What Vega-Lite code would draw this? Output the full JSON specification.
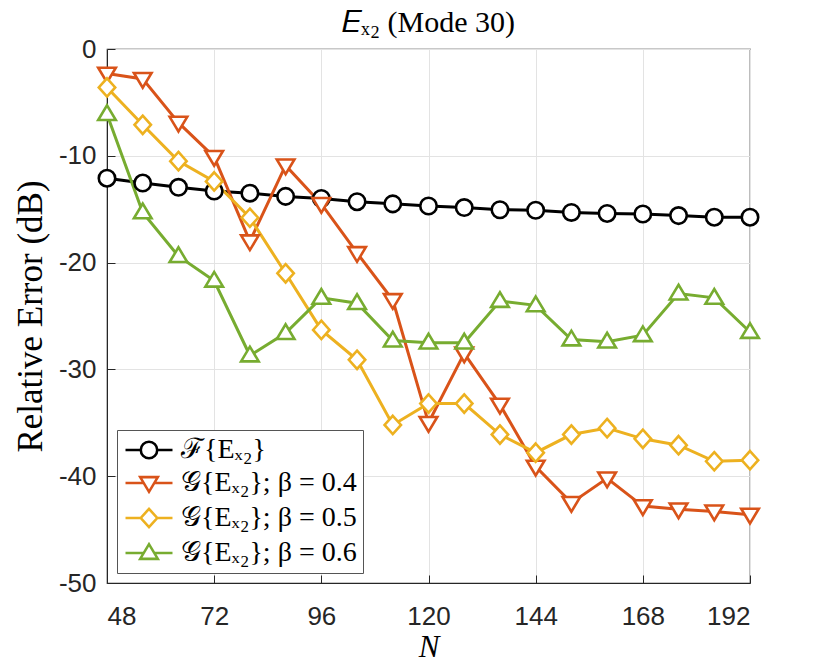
{
  "$schema": "https://vega.github.io/schema/vega-lite/v6.json",
  "width": 643,
  "height": 534,
  "autosize": {"type": "none"},
  "padding": {"left": 107, "top": 49, "right": 80, "bottom": 87},
  "background": "white",
  "title": {
    "text": "𝐸ₓ₂ (Mode 30)",
    "font": "Liberation Serif",
    "fontSize": 30,
    "fontWeight": "normal",
    "color": "#000000",
    "offset": 2,
    "dy": 4,
    "anchor": "middle"
  },
  "config": {
    "view": {"stroke": "#262626", "strokeWidth": 1.2},
    "legend": {
      "orient": "bottom-left",
      "offset": 10,
      "padding": 6,
      "fillColor": "white",
      "strokeColor": "#555555",
      "labelFont": "Liberation Serif",
      "labelFontSize": 28,
      "labelColor": "#000000",
      "labelLimit": 400,
      "labelOffset": 18,
      "symbolOffset": 12,
      "rowPadding": 5,
      "symbolSize": 552,
      "symbolStrokeWidth": 2.6,
      "symbolFillColor": "white"
    }
  },
  "data": {
    "values": [
      {"N": 48, "err": -12.1, "s": "F"},
      {"N": 56, "err": -12.55, "s": "F"},
      {"N": 64, "err": -12.95, "s": "F"},
      {"N": 72, "err": -13.3, "s": "F"},
      {"N": 80, "err": -13.5, "s": "F"},
      {"N": 88, "err": -13.8, "s": "F"},
      {"N": 96, "err": -14.0, "s": "F"},
      {"N": 104, "err": -14.3, "s": "F"},
      {"N": 112, "err": -14.5, "s": "F"},
      {"N": 120, "err": -14.7, "s": "F"},
      {"N": 128, "err": -14.85, "s": "F"},
      {"N": 136, "err": -15.05, "s": "F"},
      {"N": 144, "err": -15.1, "s": "F"},
      {"N": 152, "err": -15.3, "s": "F"},
      {"N": 160, "err": -15.4, "s": "F"},
      {"N": 168, "err": -15.45, "s": "F"},
      {"N": 176, "err": -15.6, "s": "F"},
      {"N": 184, "err": -15.75, "s": "F"},
      {"N": 192, "err": -15.75, "s": "F"},
      {"N": 48, "err": -2.3, "s": "0.4"},
      {"N": 56, "err": -2.8, "s": "0.4"},
      {"N": 64, "err": -6.9, "s": "0.4"},
      {"N": 72, "err": -10.1, "s": "0.4"},
      {"N": 80, "err": -18.0, "s": "0.4"},
      {"N": 88, "err": -10.9, "s": "0.4"},
      {"N": 96, "err": -14.5, "s": "0.4"},
      {"N": 104, "err": -19.1, "s": "0.4"},
      {"N": 112, "err": -23.5, "s": "0.4"},
      {"N": 120, "err": -35.0, "s": "0.4"},
      {"N": 128, "err": -28.5, "s": "0.4"},
      {"N": 136, "err": -33.3, "s": "0.4"},
      {"N": 144, "err": -39.1, "s": "0.4"},
      {"N": 152, "err": -42.5, "s": "0.4"},
      {"N": 160, "err": -40.2, "s": "0.4"},
      {"N": 168, "err": -42.8, "s": "0.4"},
      {"N": 176, "err": -43.1, "s": "0.4"},
      {"N": 184, "err": -43.3, "s": "0.4"},
      {"N": 192, "err": -43.6, "s": "0.4"},
      {"N": 48, "err": -3.6, "s": "0.5"},
      {"N": 56, "err": -7.1, "s": "0.5"},
      {"N": 64, "err": -10.5, "s": "0.5"},
      {"N": 72, "err": -12.4, "s": "0.5"},
      {"N": 80, "err": -15.8, "s": "0.5"},
      {"N": 88, "err": -21.0, "s": "0.5"},
      {"N": 96, "err": -26.3, "s": "0.5"},
      {"N": 104, "err": -29.1, "s": "0.5"},
      {"N": 112, "err": -35.2, "s": "0.5"},
      {"N": 120, "err": -33.2, "s": "0.5"},
      {"N": 128, "err": -33.2, "s": "0.5"},
      {"N": 136, "err": -36.1, "s": "0.5"},
      {"N": 144, "err": -37.8, "s": "0.5"},
      {"N": 152, "err": -36.1, "s": "0.5"},
      {"N": 160, "err": -35.5, "s": "0.5"},
      {"N": 168, "err": -36.5, "s": "0.5"},
      {"N": 176, "err": -37.1, "s": "0.5"},
      {"N": 184, "err": -38.6, "s": "0.5"},
      {"N": 192, "err": -38.5, "s": "0.5"},
      {"N": 48, "err": -6.1, "s": "0.6"},
      {"N": 56, "err": -15.3, "s": "0.6"},
      {"N": 64, "err": -19.4, "s": "0.6"},
      {"N": 72, "err": -21.7, "s": "0.6"},
      {"N": 80, "err": -28.7, "s": "0.6"},
      {"N": 88, "err": -26.6, "s": "0.6"},
      {"N": 96, "err": -23.3, "s": "0.6"},
      {"N": 104, "err": -23.8, "s": "0.6"},
      {"N": 112, "err": -27.3, "s": "0.6"},
      {"N": 120, "err": -27.5, "s": "0.6"},
      {"N": 128, "err": -27.5, "s": "0.6"},
      {"N": 136, "err": -23.6, "s": "0.6"},
      {"N": 144, "err": -24.0, "s": "0.6"},
      {"N": 152, "err": -27.2, "s": "0.6"},
      {"N": 160, "err": -27.4, "s": "0.6"},
      {"N": 168, "err": -26.8, "s": "0.6"},
      {"N": 176, "err": -22.9, "s": "0.6"},
      {"N": 184, "err": -23.3, "s": "0.6"},
      {"N": 192, "err": -26.5, "s": "0.6"}
    ]
  },
  "encoding": {
    "x": {
      "field": "N",
      "type": "quantitative",
      "scale": {"domain": [48, 192], "nice": false, "zero": false},
      "axis": {
        "values": [48, 72, 96, 120, 144, 168, 192],
        "grid": true,
        "gridColor": "#e3e3e3",
        "domainColor": "#262626",
        "tickColor": "#262626",
        "tickSize": -8,
        "labelFont": "Liberation Sans",
        "labelFontSize": 26,
        "labelColor": "#262626",
        "labelPadding": 28,
        "title": "N",
        "titleFont": "Liberation Serif",
        "titleFontStyle": "italic",
        "titleFontWeight": "normal",
        "titleFontSize": 31,
        "titleColor": "#000000",
        "titlePadding": 3
      }
    },
    "y": {
      "field": "err",
      "type": "quantitative",
      "scale": {"domain": [-50, 0], "nice": false},
      "axis": {
        "values": [-50, -40, -30, -20, -10, 0],
        "labelExpr": "'' + datum.value",
        "grid": true,
        "gridColor": "#e3e3e3",
        "domainColor": "#262626",
        "tickColor": "#262626",
        "tickSize": -8,
        "labelFont": "Liberation Sans",
        "labelFontSize": 26,
        "labelColor": "#262626",
        "labelPadding": 19,
        "title": "Relative Error (dB)",
        "titleFont": "Liberation Serif",
        "titleFontWeight": "normal",
        "titleFontSize": 35,
        "titleColor": "#000000",
        "titlePadding": 10
      }
    }
  },
  "layer": [
    {
      "mark": {"type": "line", "strokeWidth": 3},
      "encoding": {
        "color": {
          "field": "s",
          "type": "nominal",
          "scale": {"domain": ["F", "0.4", "0.5", "0.6"], "range": ["#000000", "#D95319", "#EDB120", "#77AC30"]},
          "legend": null
        }
      }
    },
    {
      "mark": {"type": "point", "filled": true, "fill": "white", "strokeWidth": 2.6, "size": 552, "opacity": 1},
      "encoding": {
        "stroke": {
          "field": "s",
          "type": "nominal",
          "scale": {"domain": ["F", "0.4", "0.5", "0.6"], "range": ["#000000", "#D95319", "#EDB120", "#77AC30"]},
          "legend": null
        },
        "shape": {
          "field": "s",
          "type": "nominal",
          "scale": {
            "domain": ["F", "0.4", "0.5", "0.6"],
            "range": [
              "M-0.7,0A0.7,0.7,0,1,0,0.7,0A0.7,0.7,0,1,0,-0.7,0Z",
              "M-0.75,-0.5L0.75,-0.5L0,0.75Z",
              "M0,-0.78L0.7,0L0,0.78L-0.7,0Z",
              "M-0.75,0.5L0.75,0.5L0,-0.75Z"
            ]
          },
          "legend": null
        }
      }
    },
    {
      "transform": [{"filter": "datum.N < 0"}],
      "mark": {"type": "point", "filled": true, "fill": "white", "strokeWidth": 2.6, "size": 552, "opacity": 1},
      "encoding": {
        "stroke": {
          "field": "s",
          "type": "nominal",
          "scale": {"domain": ["F", "0.4", "0.5", "0.6"], "range": ["#000000", "#D95319", "#EDB120", "#77AC30"]},
          "legend": {"title": null, "labelExpr": "datum.label == 'F' ? 'ℱ{Eₓ₂}' : '𝒢{Eₓ₂}; β = ' + datum.label"}
        },
        "shape": {
          "field": "s",
          "type": "nominal",
          "scale": {
            "domain": ["F", "0.4", "0.5", "0.6"],
            "range": [
              "M-2,0H-0.7M0.7,0H2M-0.7,0A0.7,0.7,0,1,0,0.7,0A0.7,0.7,0,1,0,-0.7,0Z",
              "M-2,0H-0.45M0.45,0H2M-0.75,-0.5L0.75,-0.5L0,0.75Z",
              "M-2,0H-0.7M0.7,0H2M0,-0.78L0.7,0L0,0.78L-0.7,0Z",
              "M-2,0H-0.45M0.45,0H2M-0.75,0.5L0.75,0.5L0,-0.75Z"
            ]
          },
          "legend": {"title": null, "labelExpr": "datum.label == 'F' ? 'ℱ{Eₓ₂}' : '𝒢{Eₓ₂}; β = ' + datum.label"}
        }
      }
    }
  ],
  "resolve": {"scale": {"shape": "independent", "stroke": "independent"}}
}
